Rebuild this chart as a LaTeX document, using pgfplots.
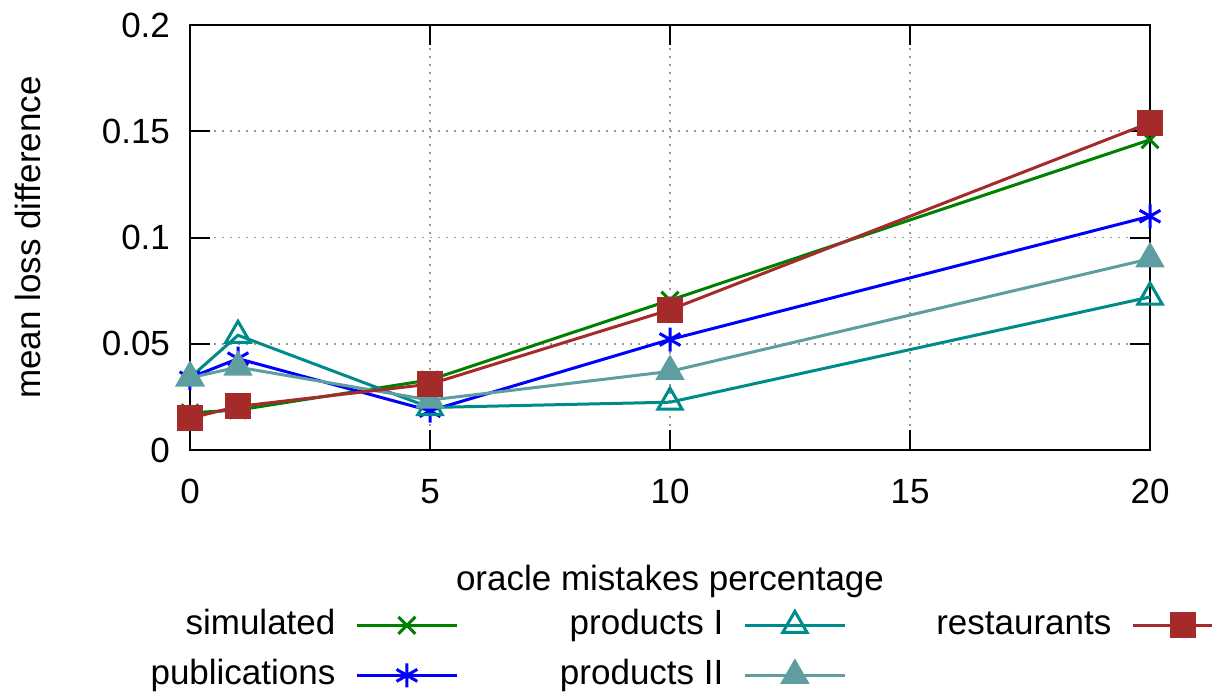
\documentclass[border=0pt]{standalone}
\usepackage{pgfplots}
\pgfplotsset{compat=1.18}
\usepackage{fontspec}
\setmainfont{Liberation Sans}
\definecolor{cgreen}{RGB}{0,128,0}
\definecolor{cblue}{RGB}{0,0,255}
\definecolor{cteal}{RGB}{0,139,139}
\definecolor{ccadet}{RGB}{95,158,160}
\definecolor{cbrown}{RGB}{165,42,42}
\newcommand{\lt}[1]{\makebox[142.5pt][r]{#1\hspace{10pt}}}
\begin{document}
\begin{tikzpicture}[font=\fontsize{17.5}{21}\selectfont]
\begin{axis}[
  scale only axis,
  width=480pt, height=212.5pt,
  xmin=0, xmax=20, ymin=0, ymax=0.2,
  xtick={0,5,10,15,20},
  ytick={0,0.05,0.1,0.15,0.2},
  yticklabels={0,0.05,0.1,0.15,0.2},
  scaled y ticks=false,
  /pgf/number format/assume math mode=true,
  tick align=inside,
  major tick length=10pt,
  axis line style={line width=1pt},
  every tick/.style={black, line width=1pt},
  grid=major,
  grid style={dash pattern=on 0.8pt off 3.2pt, gray!80, line width=0.8pt},
  xticklabel style={yshift=-11pt},
  yticklabel style={xshift=-6.5pt},
  xlabel={oracle mistakes percentage},
  ylabel={mean loss difference},
  xlabel style={at={(axis description cs:0.5,-0.31)}, anchor=center},
  ylabel style={at={(axis description cs:-0.169,0.5)}, anchor=center, rotate=0},
  clip=false,
  every axis plot/.append style={line width=1.5pt},
  legend columns=3,
  legend plot pos=right,
  legend style={at={(-0.125,-0.374)}, anchor=north west, draw=none, fill=none,
    inner sep=0pt, column sep=0pt, row sep=9pt,
    nodes={inner sep=0pt, text height=12.5pt, text depth=3.5pt}},
  legend image code/.code={
    \draw[mark repeat=2,mark phase=2,#1] plot coordinates {(0pt,0pt) (25pt,0pt) (50pt,0pt)};
  },
]
\coordinate (sw) at (rel axis cs:0,0);
\coordinate (ne) at (rel axis cs:1,1);
\addplot[cgreen, mark=x, mark size=6pt, forget plot] coordinates {(0,0.0175) (1,0.0188) (5,0.033) (10,0.0705) (20,0.146)};
\addplot[cblue, mark=asterisk, mark size=6pt, forget plot] coordinates {(0,0.034) (1,0.043) (5,0.0185) (10,0.052) (20,0.110)};
\addplot[cteal, mark=triangle, mark size=7pt, forget plot] coordinates {(0,0.034) (1,0.054) (5,0.020) (10,0.0225) (20,0.072)};
\addplot[ccadet, mark=triangle*, mark size=7pt, forget plot] coordinates {(0,0.034) (1,0.039) (5,0.0235) (10,0.037) (20,0.090)};
\addplot[cbrown, mark=square*, mark size=5.75pt, forget plot] coordinates {(0,0.015) (1,0.0205) (5,0.031) (10,0.066) (20,0.154)};
\addlegendimage{cgreen, line width=1.5pt, mark=x, mark size=6pt}
\addlegendentry{\lt{simulated}}
\addlegendimage{cteal, line width=1.5pt, mark=triangle, mark size=7pt}
\addlegendentry{\lt{products I}}
\addlegendimage{cbrown, line width=1.5pt, mark=square*, mark size=5.75pt}
\addlegendentry{\lt{restaurants}}
\addlegendimage{cblue, line width=1.5pt, mark=asterisk, mark size=6pt}
\addlegendentry{\lt{publications}}
\addlegendimage{ccadet, line width=1.5pt, mark=triangle*, mark size=7pt}
\addlegendentry{\lt{products II}}
\end{axis}
\pgfresetboundingbox
\path[use as bounding box] ([shift={(-95pt,-121pt)}]sw) rectangle ([shift={(31pt,12.5pt)}]ne);
\end{tikzpicture}
\end{document}
